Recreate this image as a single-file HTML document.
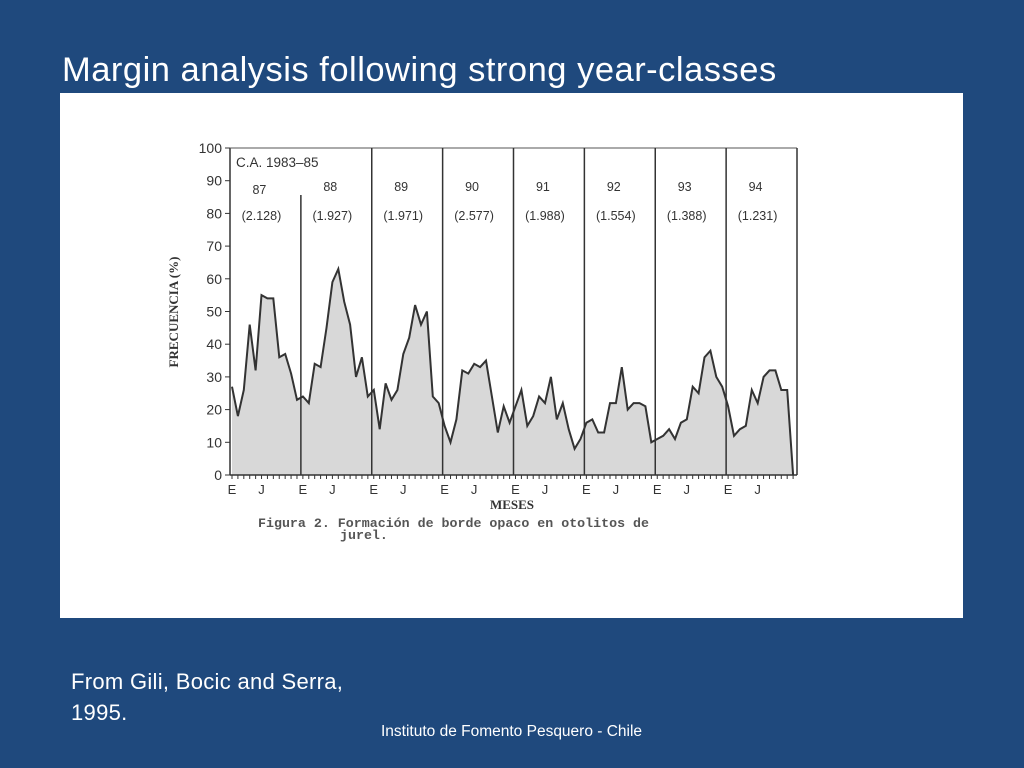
<!DOCTYPE html>
<html><head><meta charset="utf-8"><style>
body{margin:0;width:1024px;height:768px;background:#1f497d;position:relative;overflow:hidden;font-family:"Liberation Sans",sans-serif}
.t{position:absolute;color:#fff}
</style></head><body>
<div class="t" style="left:62px;top:51px;font-size:34.5px;letter-spacing:0.5px">Margin analysis following strong year-classes</div>
<div style="position:absolute;left:60px;top:93px;width:903px;height:525px;background:#fff"></div>
<svg id="c" width="1024" height="768" style="position:absolute;left:0;top:0" font-family="Liberation Sans, sans-serif"></svg>
<div class="t" style="left:71px;top:666px;font-size:22px;line-height:31px;letter-spacing:0.3px">From Gili, Bocic and Serra,<br>1995.</div>
<div class="t" style="left:381px;top:723px;font-size:15.5px">Instituto de Fomento Pesquero - Chile</div>
<script>
const years=['87','88','89','90','91','92','93','94'];
const counts=['(2.128)','(1.927)','(1.971)','(2.577)','(1.988)','(1.554)','(1.388)','(1.231)'];
const yTicks=[0,10,20,30,40,50,60,70,80,90,100];
const monthLabels=['E','J'];
const values=[27,18,26,46,32,55,54,54,36,37,31,23,
24,22,34,33,45,59,63,53,46,30,36,24,
26,14,28,23,26,37,42,52,46,50,24,22,
15,10,17,32,31,34,33,35,24,13,21,16,
21,26,15,18,24,22,30,17,22,14,8,11,
16,17,13,13,22,22,33,20,22,22,21,10,
11,12,14,11,16,17,27,25,36,38,30,27,
21,12,14,15,26,22,30,32,32,26,26,0];
const svg=document.getElementById('c');const NS='http://www.w3.org/2000/svg';
function mk(t,a,p){const e=document.createElementNS(NS,t);for(const k in a)e.setAttribute(k,a[k]);(p||svg).appendChild(e);return e;}
const X0=230,X1=797,Y0=475,Y1=148;
const yS=v=>Y0-(v/100)*(Y0-Y1);
const mw=(X1-X0)/values.length;
const xS=i=>X0+2+i*mw;
const yw=mw*12;
let pts=values.map((v,i)=>xS(i).toFixed(1)+','+yS(v).toFixed(1));
const area=mk('polygon',{points:xS(0)+','+Y0+' '+pts.join(' ')+' '+xS(values.length-1)+','+Y0,fill:'#d8d8d8'});

const ln=mk('polyline',{points:pts.join(' '),fill:'none',stroke:'#333','stroke-width':2});

mk('line',{x1:X0,y1:Y1,x2:X0,y2:Y0,stroke:'#333','stroke-width':1.5});
mk('line',{x1:X0,y1:Y0,x2:X1,y2:Y0,stroke:'#333','stroke-width':1.5});
mk('line',{x1:X0,y1:Y1,x2:X1,y2:Y1,stroke:'#555','stroke-width':1});
yTicks.forEach(v=>{mk('line',{x1:X0-5,y1:yS(v),x2:X0,y2:yS(v),stroke:'#333'});
const t=mk('text',{x:X0-8,y:yS(v)+5,'text-anchor':'end','font-size':14,fill:'#333'});t.textContent=v;
});
years.forEach((y,k)=>{const xs=X0+k*yw;
if(k>0)mk('line',{x1:xs,y1:k==1?195:Y1,x2:xs,y2:Y0,stroke:'#333','stroke-width':1.5});
const a=mk('text',{x:xs+yw/2-6,y:k==0?194:191,'text-anchor':'middle','font-size':12.5,fill:'#333'});a.textContent=y;

const b=mk('text',{x:xs+yw/2-4,y:220,'text-anchor':'middle','font-size':12.5,fill:'#333'});b.textContent=counts[k];

monthLabels.forEach((m,j)=>{const t=mk('text',{x:xs+2+j*5*mw,y:494,'text-anchor':'middle','font-size':13,fill:'#333'});t.textContent=m;
});});
mk('line',{x1:X1,y1:Y1,x2:X1,y2:Y0,stroke:'#333','stroke-width':1.5});
for(let i=0;i<values.length;i++)mk('line',{x1:xS(i),y1:Y0,x2:xS(i),y2:Y0+4,stroke:'#333'});
const ca=mk('text',{x:236,y:167,'font-size':13.5,fill:'#333'});ca.textContent='C.A. 1983–85';

const yt=mk('text',{x:178,y:312,'text-anchor':'middle','font-size':13,'font-family':'Liberation Serif, serif','font-weight':'bold',fill:'#333',transform:'rotate(-90 178 312)'});yt.textContent='FRECUENCIA (%)';

const xt=mk('text',{x:512,y:509,'text-anchor':'middle','font-size':13,'font-family':'Liberation Serif, serif','font-weight':'bold',fill:'#333'});xt.textContent='MESES';

const f1=mk('text',{x:258,y:527,'font-size':13.3,'font-family':'Liberation Mono, monospace','font-weight':'bold',fill:'#555'});f1.textContent='Figura 2. Formación de borde opaco en otolitos de';

const f2=mk('text',{x:340,y:539,'font-size':13.3,'font-family':'Liberation Mono, monospace','font-weight':'bold',fill:'#555'});f2.textContent='jurel.';

</script>
</body></html>
